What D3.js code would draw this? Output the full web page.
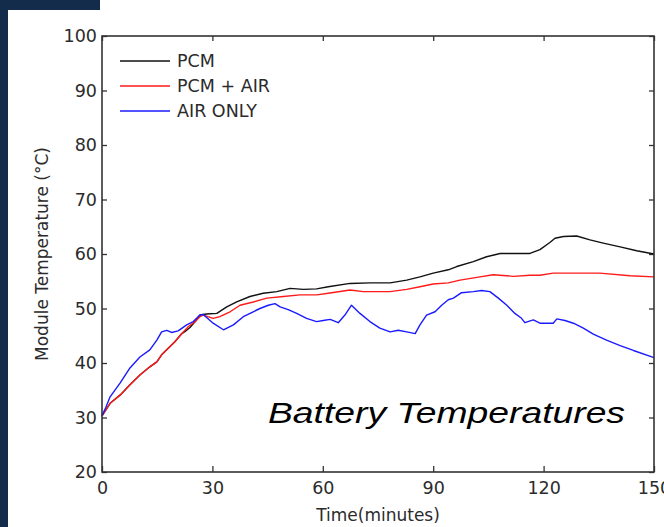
<!DOCTYPE html>
<html>
<head>
<meta charset="utf-8">
<script src="https://cdn.jsdelivr.net/npm/d3@7"></script>
<style>
  html, body { margin: 0; padding: 0; background: #fff; }
  svg { display: block; }
</style>
</head>
<body>
<svg id="chart" width="664" height="527"></svg>
<script>
// x ticks (minutes) and y ticks (deg C)
const xTicks = [0, 30, 60, 90, 120, 150]
const yTicks = [20, 30, 40, 50, 60, 70, 80, 90, 100]

// PCM
const pcmTime = [0, 2.2, 4.9, 7.6, 10.3, 13, 14.9, 16.2, 18, 19.8, 21.7, 22.6, 23.9, 25.7, 26.6, 28.4, 31.2, 33.9, 36.6, 40.2, 43.8, 47.5, 51.1, 54.7, 58.3, 61.5, 67.4, 72.8, 78.3, 82.8, 86.4, 90, 94.1, 96.4, 100.9, 104.5, 108.2, 116.3, 119, 121.7, 123.1, 125.4, 129, 132.6, 136.2, 140.8, 145.3, 150]
const pcmTemp = [30.3, 32.6, 34.1, 36.0, 37.8, 39.3, 40.2, 41.5, 42.7, 43.9, 45.4, 45.8, 46.5, 47.9, 48.8, 49.0, 49.1, 50.3, 51.2, 52.2, 52.8, 53.1, 53.7, 53.5, 53.6, 54.0, 54.6, 54.7, 54.7, 55.2, 55.8, 56.5, 57.1, 57.7, 58.6, 59.5, 60.1, 60.1, 60.8, 62.1, 62.9, 63.2, 63.3, 62.6, 62.0, 61.3, 60.6, 60.0]

// PCM + AIR
const pcmAirTime = [0, 2.2, 4.9, 7.6, 10.3, 13, 14.9, 16.2, 18, 19.8, 21.7, 23.5, 25.3, 26.6, 27.5, 30.2, 32, 34.8, 37.5, 41.1, 44.8, 49.3, 53.8, 58.3, 61.5, 67.4, 71, 78.3, 82.8, 86.4, 90, 94.1, 97.3, 102.7, 106.3, 111.8, 116.3, 119, 122.6, 135.3, 143.5, 150]
const pcmAirTemp = [30.3, 32.6, 34.1, 36.0, 37.8, 39.3, 40.2, 41.5, 42.7, 43.9, 45.4, 46.7, 47.6, 48.5, 48.8, 48.2, 48.5, 49.4, 50.6, 51.2, 51.9, 52.2, 52.5, 52.5, 52.8, 53.4, 53.1, 53.1, 53.5, 54.0, 54.5, 54.7, 55.2, 55.8, 56.2, 55.9, 56.1, 56.1, 56.5, 56.5, 56.0, 55.8]

// AIR ONLY
const airTime = [0, 1, 2.2, 4.9, 7.6, 10.3, 13, 14.9, 16.2, 17.6, 18.9, 20.7, 23, 24.8, 26.6, 27.5, 30.2, 33, 35.7, 38.4, 41.1, 42.9, 45.2, 47, 48.4, 50.6, 52.9, 55.6, 58.3, 60.1, 62, 64.2, 66, 67.8, 70.1, 72.8, 75.5, 78.3, 80.5, 82.8, 85.1, 86.4, 88.2, 90.5, 92.3, 94.1, 95.5, 97.7, 100.9, 103.2, 105.4, 107.7, 110, 112.2, 114, 114.9, 117.2, 119, 122.6, 123.6, 125.8, 128.1, 130.8, 133.5, 137.1, 140.8, 144.4, 150]
const airTemp = [30.3, 31.8, 33.8, 36.3, 39.1, 41.1, 42.4, 44.2, 45.7, 46.0, 45.6, 45.9, 47.0, 47.6, 48.8, 48.9, 47.3, 46.1, 47.0, 48.5, 49.4, 50.0, 50.6, 50.9, 50.3, 49.8, 49.1, 48.2, 47.6, 47.8, 48.0, 47.4, 48.8, 50.6, 49.1, 47.6, 46.4, 45.7, 46.0, 45.7, 45.4, 47.0, 48.8, 49.4, 50.6, 51.6, 51.9, 52.9, 53.1, 53.3, 53.1, 51.9, 50.6, 49.1, 48.2, 47.4, 47.9, 47.3, 47.3, 48.1, 47.8, 47.3, 46.4, 45.3, 44.2, 43.2, 42.3, 41.0]

const seriesNames = ['PCM', 'PCM + AIR', 'AIR ONLY']
const seriesColors = ['#111111', '#ff1a1a', '#1a1aff']

const series = [
  { name: seriesNames[0], color: seriesColors[0], pts: pcmTime.map((t, i) => [t, pcmTemp[i]]) },
  { name: seriesNames[1], color: seriesColors[1], pts: pcmAirTime.map((t, i) => [t, pcmAirTemp[i]]) },
  { name: seriesNames[2], color: seriesColors[2], pts: airTime.map((t, i) => [t, airTemp[i]]) }
]

const svg = d3.select('#chart')
const W = 664, H = 527
const m = { left: 102, top: 36, right: 10, bottom: 55 }
const pw = W - m.left - m.right
const ph = H - m.top - m.bottom

const textColor = '#2b2b2b'
const font = '"DejaVu Sans", sans-serif'

// dark slide background peeking at the edges
svg.append('rect').attr('x', 0).attr('y', 0).attr('width', 8).attr('height', H).attr('fill', '#142c4c')
svg.append('rect').attr('x', 0).attr('y', 0).attr('width', 100).attr('height', 10).attr('fill', '#142c4c')

const x = d3.scaleLinear().domain([0, 150]).range([m.left, m.left + pw])
const y = d3.scaleLinear().domain([20, 100]).range([m.top + ph, m.top])

const g = svg.append('g')

// axes, MATLAB style: ticks point inward, box all round
const styleAxis = sel => {
  sel.select('.domain').remove()
  sel.selectAll('.tick line').attr('stroke', '#333').attr('stroke-width', 1.3)
  sel.selectAll('.tick text').attr('fill', textColor).style('font-family', font).style('font-size', '17.5px')
}

g.append('g')
  .attr('transform', `translate(0,${m.top + ph})`)
  .call(d3.axisBottom(x).tickValues(xTicks).tickFormat(d3.format('d')).tickSizeInner(-6).tickSizeOuter(0).tickPadding(10))
  .call(styleAxis)

g.append('g')
  .attr('transform', `translate(${m.left},0)`)
  .call(d3.axisLeft(y).tickValues(yTicks).tickFormat(d3.format('d')).tickSizeInner(-5).tickSizeOuter(0).tickPadding(5))
  .call(styleAxis)

g.append('g')
  .attr('transform', `translate(0,${m.top})`)
  .call(d3.axisTop(x).tickValues(xTicks).tickFormat('').tickSizeInner(-5).tickSizeOuter(0))
  .call(styleAxis)

g.append('g')
  .attr('transform', `translate(${m.left + pw},0)`)
  .call(d3.axisRight(y).tickValues(yTicks).tickFormat('').tickSizeInner(-5).tickSizeOuter(0))
  .call(styleAxis)

const line = d3.line().x(d => x(d[0])).y(d => y(d[1]))

g.selectAll('path.series')
  .data(series)
  .enter()
  .append('path')
  .attr('class', 'series')
  .attr('d', d => line(d.pts))
  .attr('fill', 'none')
  .attr('stroke', d => d.color)
  .attr('stroke-width', 1.4)
  .attr('stroke-linejoin', 'round')

// plot box
g.append('rect')
  .attr('x', m.left).attr('y', m.top)
  .attr('width', pw).attr('height', ph)
  .attr('fill', 'none')
  .attr('stroke', '#333')
  .attr('stroke-width', 1.6)

// legend
const legend = g.append('g').attr('transform', `translate(120,61)`)
const rows = legend.selectAll('g').data(series).enter().append('g')
  .attr('transform', (d, i) => `translate(0,${i * 25})`)
rows.append('line').attr('x1', 0).attr('x2', 50).attr('y1', 0).attr('y2', 0)
  .attr('stroke', d => d.color).attr('stroke-width', 1.4)
rows.append('text').attr('x', 57).attr('y', 0).attr('dy', '0.36em')
  .attr('fill', textColor).style('font-family', font).style('font-size', '17.5px')
  .text(d => d.name)

// axis labels
g.append('text')
  .attr('x', m.left + pw / 2).attr('y', 521)
  .attr('text-anchor', 'middle')
  .attr('fill', textColor).style('font-family', font).style('font-size', '17px')
  .text('Time(minutes)')

g.append('text')
  .attr('transform', `translate(48,${m.top + ph / 2}) rotate(-90)`)
  .attr('text-anchor', 'middle')
  .attr('fill', textColor).style('font-family', font).style('font-size', '17px')
  .text('Module Temperature (\u00B0C)')

// slide caption
g.append('text')
  .attr('x', 268).attr('y', 423)
  .attr('textLength', 357).attr('lengthAdjust', 'spacingAndGlyphs')
  .attr('fill', '#000')
  .style('font-family', '"Liberation Sans", Arial, sans-serif')
  .style('font-style', 'italic')
  .style('font-size', '30px')
  .text('Battery Temperatures')
</script>
</body>
</html>
